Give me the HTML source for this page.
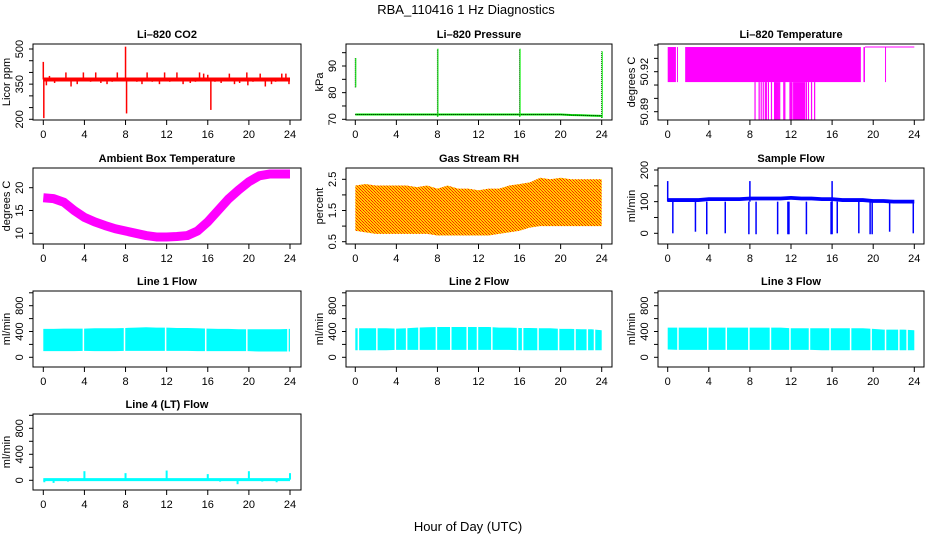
<!DOCTYPE html>
<html><head><meta charset="utf-8"><style>
html,body{margin:0;padding:0;background:#fff;}
svg{display:block;font-family:"Liberation Sans",sans-serif;}
</style></head><body>
<svg id="c" width="936" height="540" viewBox="0 0 936 540" xmlns="http://www.w3.org/2000/svg">
<defs>
<pattern id="rhpat" width="3" height="3" patternUnits="userSpaceOnUse">
<rect width="3" height="3" fill="#ffd000"/><rect width="1" height="1" fill="#ff2000"/><rect x="1" y="1" width="1" height="1" fill="#ff4000"/><rect x="2" y="2" width="1" height="1" fill="#ff2000"/>
</pattern>
</defs>
<text x="466" y="14" text-anchor="middle" font-size="13">RBA_110416  1 Hz Diagnostics</text>
<text x="468" y="531" text-anchor="middle" font-size="13">Hour of Day (UTC)</text>
</svg>
<script>
// ---- data ----
var xTicks = [0,4,8,12,16,20,24];
var co2Base = 370;
var co2SpikeHours = [0,0.05,0.3,0.6,1.1,1.6,2.2,2.7,3.3,3.9,4.2,4.6,5.1,5.6,6.2,6.7,7.2,7.7,8.0,8.1,8.6,9.1,9.6,10.1,10.6,11.3,11.8,12.3,13.0,13.6,14.3,14.8,15.2,15.6,16.0,16.3,16.7,17.3,18.1,18.6,19.1,19.8,19.9,20.4,21.1,21.6,22.2,22.6,23.2,23.6,23.9];
var co2SpikeVals = [445,205,345,385,355,365,400,340,350,400,365,360,400,355,350,360,400,375,510,225,365,360,350,400,360,350,400,360,400,350,355,360,400,395,390,240,360,355,395,350,355,400,345,360,395,340,350,360,395,395,350];
var presBase = [71.8,71.8,71.8,71.8,71.8,71.8,71.8,71.8,71.8,71.8,71.8,71.8,71.8,71.8,71.8,71.8,71.8,71.8,71.8,71.8,71.8,71.6,71.5,71.4,71.3];
var presSpikeHours = [0,8,16,24];
var presSpikeLo = [82,71,71,70.5];
var presSpikeHi = [93,96.5,96.5,95.5];
var tempHiSegStart = [0,1.7,19.05];
var tempHiSegEnd = [0.8,18.8,19.2];
var tempLineHours = [0.95,21.2];
var tempDipHours = [8.5,8.9,9.1,9.3,9.5,9.6,9.8,10.1,10.4,10.5,10.6,10.7,10.8,10.9,11.3,11.4,11.9,12.0,12.1,13.5,13.7,14.0,14.3];
var tempDipBlockStart = 12.2, tempDipBlockEnd = 13.4;
var ambHours = [0,1,2,3,4,5,6,7,8,9,10,11,12,13,14,15,16,17,18,19,20,21,22,23,24];
var ambTemp = [17.8,17.6,16.8,15.0,13.5,12.5,11.7,11.0,10.5,10.0,9.5,9.2,9.2,9.3,9.5,10.5,12.5,15.0,17.5,19.5,21.3,22.6,23.0,23.0,23.0];
var rhUpper = [2.3,2.35,2.3,2.3,2.3,2.3,2.25,2.3,2.2,2.3,2.2,2.2,2.15,2.2,2.2,2.3,2.35,2.4,2.55,2.5,2.55,2.5,2.5,2.5,2.5];
var rhLower = [0.85,0.8,0.75,0.75,0.75,0.75,0.75,0.75,0.7,0.7,0.7,0.7,0.7,0.7,0.75,0.8,0.85,0.95,1.0,1.0,1.0,1.0,1.0,1.0,1.0];
var sfBase = [105,105,105,105,108,108,108,108,110,110,110,110,112,110,110,108,108,105,105,105,102,102,100,100,100];
var sfDipHours = [0.5,2.7,3.8,5.6,7.9,8.6,10.7,11.7,11.8,13.5,15.9,16.0,16.5,18.6,19.7,19.9,21.6,23.9];
var sfDipVals = [0,5,-3,0,-3,-3,-3,-3,-3,-3,-3,-3,0,0,-3,-3,5,0];
var sfSpikeHours = [0,8,16];
var sfSpikeVals = [165,165,165];
var l1Upper = [440,440,445,445,445,450,450,450,455,460,465,460,460,455,455,450,445,440,440,435,435,435,435,435,440];
var l1Lower = [95,95,95,95,100,95,95,95,100,100,100,100,100,100,100,95,95,95,95,95,95,90,90,90,90];
var l1Gaps = [3.9,7.9,11.9,15.8,19.8,23.8];
var l2Upper = [450,450,450,450,445,450,460,465,470,470,470,470,470,470,460,460,455,455,450,450,440,440,435,435,420];
var l2Lower = [110,110,110,110,115,115,115,115,115,115,115,115,115,115,115,115,110,110,110,110,110,110,110,110,110];
var l2Gaps = [0.3,2.1,3.9,5.0,6.2,7.9,9.3,10.9,11.9,13.3,15.8,16.3,17.8,19.8,21.4,22.6,23.3];
var l3Upper = [460,460,460,460,460,460,460,460,460,460,460,460,450,450,450,450,450,450,450,450,440,430,430,430,420];
var l3Lower = [120,115,115,115,115,115,115,115,115,115,115,115,115,115,115,110,110,110,110,110,110,110,110,110,110];
var l3Gaps = [1.0,3.9,5.7,7.9,10.0,11.9,13.8,15.8,17.8,19.8,21.2,22.5,23.3];
var l4Base = 10;
var l4SpikeHours = [4,8,12,16,20,24,0.1,1.0,2.4,17.2,18.9,21.3,22.7];
var l4SpikeVals = [140,110,150,95,140,110,-30,-40,-20,-20,-60,-20,-30];

// ---- layout ----
var cols = [{l:33,r:301,x0:43.3,x1:290},{l:346,r:612,x0:355.3,x1:601.7},{l:658,r:924,x0:667.7,x1:914.3}];
var rows = [{t:44,b:120},{t:168,b:244},{t:291,b:367},{t:414,b:490}];
var svg = document.getElementById('c');
var NS = 'http://www.w3.org/2000/svg';
function mk(tag, attrs, parent){
  var e = document.createElementNS(NS, tag);
  for (var k in attrs) e.setAttribute(k, attrs[k]);
  (parent||svg).appendChild(e); return e;
}
function lin(v1,p1,v2,p2){ return function(v){ return p1 + (v-v1)*(p2-p1)/(v2-v1); }; }

function panel(name, title, ytitle, ci, ri, yScale, yTicks, yLabels){
  var c = cols[ci], r = rows[ri];
  var g = mk('g', {});
  
  
  var X = lin(0, c.x0, 24, c.x1);
  var t = mk('text', {x:(c.l+c.r)/2, y:r.t-6, 'text-anchor':'middle', 'font-size':'11', 'font-weight':'bold'}, g);
  t.textContent = title;
  
  
  var data = mk('g', {}, g);
  
  
  var box = mk('rect', {x:c.l, y:r.t, width:c.r-c.l, height:r.b-r.t, fill:'none', stroke:'#000', 'stroke-width':'1'}, g);
  
  
  var xa = mk('g', {}, g);
  
  
  mk('line', {x1:X(xTicks[0]), x2:X(xTicks[xTicks.length-1]), y1:r.b, y2:r.b, stroke:'#000'}, xa);
  xTicks.forEach(function(v){
    mk('line', {x1:X(v), x2:X(v), y1:r.b, y2:r.b+5, stroke:'#000'}, xa);
    var tl = mk('text', {x:X(v), y:r.b+18, 'text-anchor':'middle', 'font-size':'11'}, xa);
    tl.textContent = v;
  });
  var ya = mk('g', {}, g);
  
  
  var y0 = Math.min(r.b, yScale(yTicks[0])), y1 = Math.max(r.t, yScale(yTicks[yTicks.length-1]));
  mk('line', {x1:c.l, x2:c.l, y1:y0, y2:y1, stroke:'#000'}, ya);
  yTicks.forEach(function(v){
    var py = yScale(v);
    if (py > r.b + 0.5 || py < r.t - 14) return;
    mk('line', {x1:c.l-4, x2:c.l, y1:py, y2:py, stroke:'#000'}, ya);
  });
  yLabels.forEach(function(v){
    var py = yScale(v);
    var lx = c.l - 10;
    var tl = mk('text', {x:lx, y:py, 'text-anchor':'middle', 'font-size':'11', transform:'rotate(-90 '+lx+' '+py+')'}, ya);
    tl.textContent = v;
  });
  var yt = mk('text', {x:c.l-23, y:(r.t+r.b)/2, 'text-anchor':'middle', 'font-size':'11', transform:'rotate(-90 '+(c.l-23)+' '+((r.t+r.b)/2)+')'}, g);
  yt.textContent = ytitle;
  
  
  return {g:data, X:X, Y:yScale};
}
function vline(p, h, a, b, col, w){ return mk('line', {x1:p.X(h), x2:p.X(h), y1:p.Y(a), y2:p.Y(b), stroke:col, 'stroke-width':w||1}, p.g); }
function band(p, up, lo, fill){
  var pts = [];
  for (var i=0;i<up.length;i++) pts.push(p.X(i*24/(up.length-1))+','+p.Y(up[i]));
  for (var j=lo.length-1;j>=0;j--) pts.push(p.X(j*24/(lo.length-1))+','+p.Y(lo[j]));
  return mk('polygon', {points:pts.join(' '), fill:fill}, p.g);
}

// CO2
var p = panel('co2','Li\u2013820 CO2','Licor ppm',0,0,lin(200,119.3,500,49),[200,250,300,350,400,450,500],[200,350,500]);
var b = mk('line',{x1:p.X(0),x2:p.X(24),y1:p.Y(co2Base),y2:p.Y(co2Base),stroke:'#ff0000','stroke-width':4},p.g);

co2SpikeHours.forEach(function(h,i){ var s=vline(p,h,co2Base,co2SpikeVals[i],'#ff0000',1.5);
   });

// Pressure
p = panel('pressure','Li\u2013820 Pressure','kPa',1,0,lin(70,119.3,90,66),[70,75,80,85,90,95],[70,80,90]);
var pts = presBase.map(function(v,i){return p.X(i)+','+p.Y(v);}).join(' ');
var pl = mk('polyline',{points:pts,fill:'none',stroke:'#00ee00','stroke-width':2},p.g);

mk('polyline',{points:pts,fill:'none',stroke:'#000','stroke-width':1,'stroke-dasharray':'1 1'},p.g);
presSpikeHours.forEach(function(h,i){
  var s=vline(p,h,presSpikeLo[i],presSpikeHi[i],'#000',1); s.setAttribute('stroke-dasharray','1 1');
  
  vline(p,h+0.05,presSpikeLo[i],presSpikeHi[i],'#00ee00',1);
});

// Li-820 temperature
p = panel('li820-temp','Li\u2013820 Temperature','degrees C',2,0,lin(50.89,111.7,50.92,71.7),[50.89,50.90,50.91,50.92,50.93,50.94],['50.89','50.92']);
var TH=50.9385, TM=50.9122, TL=50.8842, MAG='#ff00ff';
tempHiSegStart.forEach(function(s,i){
  var r=mk('rect',{x:p.X(s),y:p.Y(TH),width:p.X(tempHiSegEnd[i])-p.X(s),height:p.Y(TM)-p.Y(TH),fill:MAG},p.g);
  
});
mk('line',{x1:p.X(19.2),x2:p.X(24),y1:p.Y(TH),y2:p.Y(TH),stroke:MAG},p.g);
tempLineHours.forEach(function(h){ vline(p,h,TH,TM,MAG,1); });
tempDipHours.forEach(function(h){ var s=vline(p,h,TM,TL,MAG,1.2);  });
mk('rect',{x:p.X(tempDipBlockStart),y:p.Y(TM),width:p.X(tempDipBlockEnd)-p.X(tempDipBlockStart),height:p.Y(TL)-p.Y(TM),fill:MAG},p.g);

// Ambient
p = panel('ambient-temp','Ambient Box Temperature','degrees C',0,1,lin(10,233.3,20,187.7),[10,15,20],[10,15,20]);
var ap = ambHours.map(function(h,i){return p.X(h)+','+p.Y(ambTemp[i]);}).join(' ');
var al = mk('polyline',{points:ap,fill:'none',stroke:MAG,'stroke-width':9,'stroke-linejoin':'round'},p.g);


// RH
p = panel('gas-rh','Gas Stream RH','percent',1,1,lin(0.5,241.7,2.5,179.3),[0.5,1,1.5,2,2.5],['0.5','1.5','2.5']);
var rb = band(p, rhUpper, rhLower, 'url(#rhpat)');


// Sample flow
p = panel('sample-flow','Sample Flow','ml/min',2,1,lin(0,233.3,200,170),[0,50,100,150,200],[0,100,200]);
var sb = band(p, sfBase.map(function(v){return v+6;}), sfBase.map(function(v){return v-6;}), '#0000ff');

sfDipHours.forEach(function(h,i){ var s=vline(p,h,100,sfDipVals[i],'#0000ff',1.5);  });
sfSpikeHours.forEach(function(h,i){ vline(p,h,100,sfSpikeVals[i],'#0000ff',1.5); });

// Line flows
function flowPanel(name,title,ci,ri,up,lo,gaps){
  var q = panel(name,title,'ml/min',ci,ri,lin(0,rows[ri].b-9.7,800,rows[ri].t+14.7),[0,200,400,600,800,1000],[0,400,800]);
  var bd = band(q, up, lo, '#00ffff');
  
  gaps.forEach(function(h){ vline(q,h,520,30,'#fff',1.5); });
  return q;
}
flowPanel('line1-flow','Line 1 Flow',0,2,l1Upper,l1Lower,l1Gaps);
flowPanel('line2-flow','Line 2 Flow',1,2,l2Upper,l2Lower,l2Gaps);
flowPanel('line3-flow','Line 3 Flow',2,2,l3Upper,l3Lower,l3Gaps);
p = panel('line4-flow','Line 4 (LT) Flow','ml/min',0,3,lin(0,480.3,800,428.3),[0,200,400,600,800,1000],[0,400,800]);
var l4 = mk('line',{x1:p.X(0),x2:p.X(24),y1:p.Y(l4Base),y2:p.Y(l4Base),stroke:'#00ffff','stroke-width':3},p.g);

l4SpikeHours.forEach(function(h,i){ var s=vline(p,h,l4Base,l4SpikeVals[i],'#00ffff',2);  });
</script>
</body></html>
